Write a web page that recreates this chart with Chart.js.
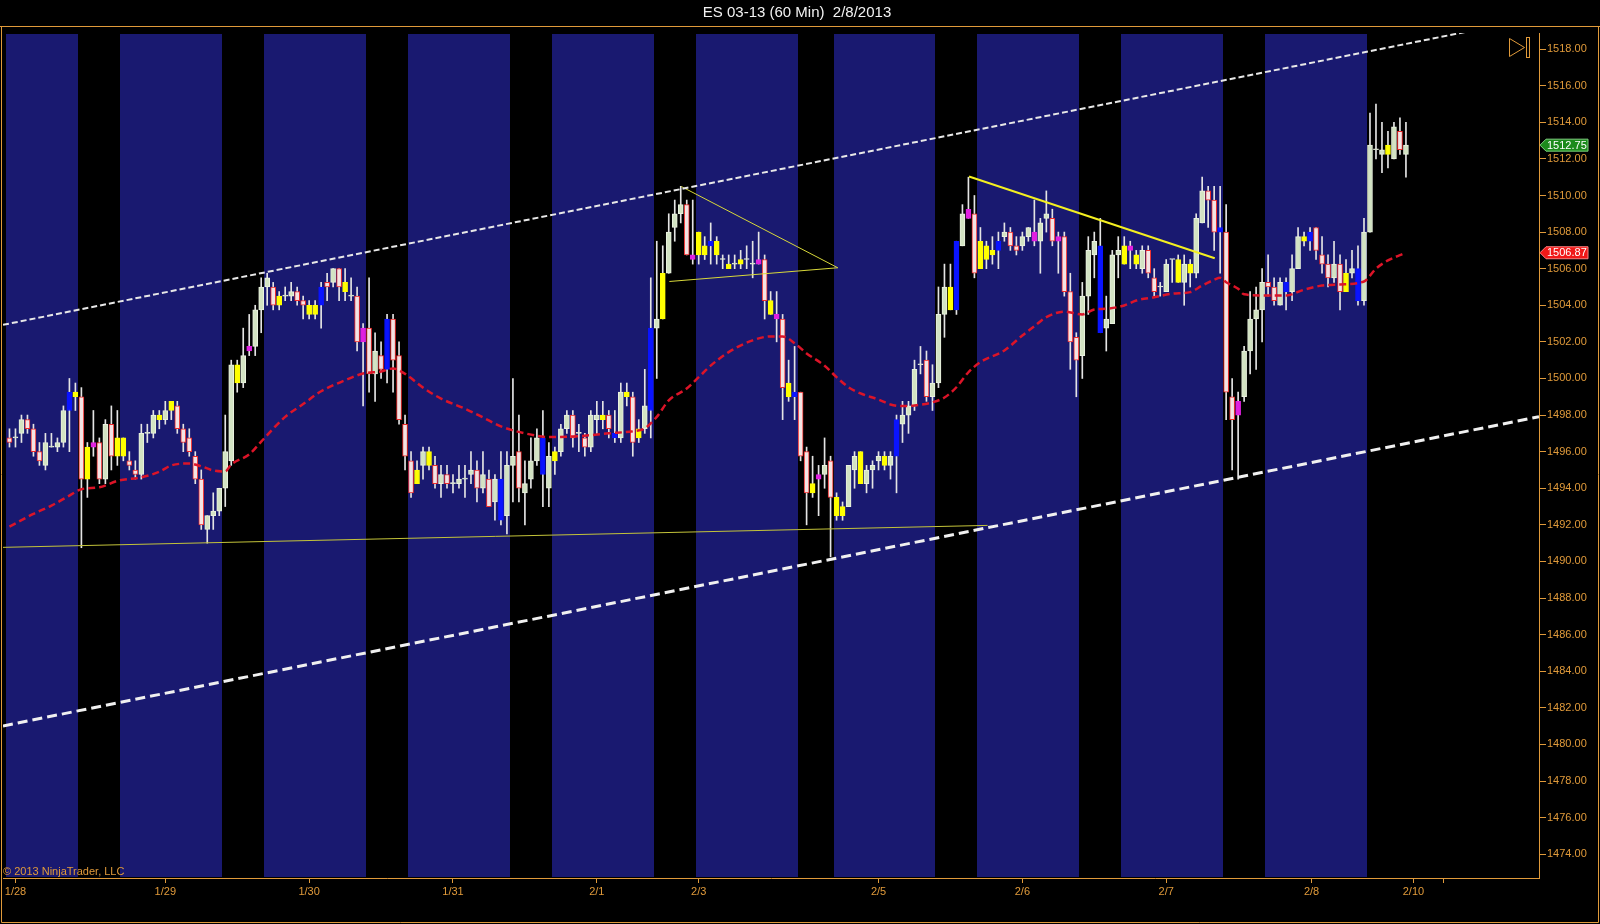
<!DOCTYPE html>
<html>
<head>
<meta charset="utf-8">
<title>ES 03-13 (60 Min) 2/8/2013</title>
<script src="https://cdn.jsdelivr.net/npm/chart.js@4.4.1/dist/chart.umd.min.js"></script>
<style>
  html, body { margin: 0; padding: 0; background: #000; }
  canvas { display: block; }
</style>
</head>
<body>
<canvas id="ChartHolder" width="1600" height="924"></canvas>
<script>
// hourly bars, index 0 = first bar on the chart
var openP = [
    1496.75, 1496.75, 1497.0, 1497.75, 1497.25, 1496.0, 1495.25, 1496.25, 1496.25, 1496.5,
    1498.25, 1499.0, 1499.0, 1494.5, 1496.25, 1496.5, 1494.5, 1497.5, 1495.75, 1495.75,
    1495.5, 1495.0, 1494.75, 1497.0, 1497.0, 1497.75, 1497.75, 1498.25, 1498.5, 1497.25,
    1496.75, 1495.75, 1494.5, 1491.75, 1492.5, 1492.75, 1494.0, 1495.5, 1499.75, 1499.75,
    1501.5, 1501.75, 1503.75, 1505.0, 1505.0, 1504.0, 1504.5, 1504.5, 1504.75, 1504.25,
    1503.5, 1503.5, 1504.0, 1505.25, 1505.25, 1506.0, 1504.75, 1504.5, 1504.5, 1502.0,
    1502.75, 1500.25, 1501.25, 1500.5, 1503.25, 1501.25, 1497.5, 1495.5, 1494.25, 1495.25,
    1495.25, 1495.25, 1494.25, 1494.75, 1494.25, 1494.25, 1494.5, 1494.75, 1495.0, 1494.0,
    1494.5, 1493.25, 1492.25, 1492.5, 1495.25, 1496.0, 1493.75, 1494.5, 1495.5, 1494.75,
    1494.0, 1495.5, 1496.0, 1497.25, 1498.0, 1497.0, 1496.75, 1496.25, 1497.75, 1497.75,
    1498.0, 1496.75, 1496.75, 1499.0, 1499.0, 1496.75, 1497.25, 1498.25, 1502.75, 1503.25,
    1505.75, 1508.25, 1509.0, 1509.5, 1506.5, 1506.75, 1506.75, 1507.25, 1506.75, 1506.5,
    1506.0, 1506.25, 1506.25, 1506.5, 1506.25, 1506.25, 1506.5, 1503.5, 1503.25, 1503.25,
    1499.0, 1499.0, 1499.25, 1496.0, 1493.75, 1494.5, 1494.75, 1495.5, 1492.5, 1492.5,
    1493.0, 1495.0, 1494.25, 1494.25, 1495.0, 1495.5, 1495.25, 1495.25, 1495.75, 1497.5,
    1498.0, 1498.5, 1500.75, 1501.0, 1499.0, 1499.75, 1503.5, 1503.75, 1503.75, 1507.25,
    1508.75, 1509.0, 1506.0, 1506.5, 1506.75, 1507.0, 1507.75, 1508.0, 1507.25, 1507.25,
    1507.75, 1507.5, 1507.5, 1508.75, 1508.75, 1507.5, 1507.75, 1504.75, 1502.25, 1501.25,
    1504.5, 1506.75, 1507.25, 1502.75, 1503.0, 1506.75, 1506.25, 1507.0, 1506.25, 1506.0,
    1507.0, 1505.5, 1505.0, 1504.75, 1506.5, 1505.25, 1505.25, 1505.75, 1505.75, 1508.5,
    1510.25, 1509.75, 1508.0, 1508.0, 1499.0, 1498.0, 1499.0, 1501.5, 1503.25, 1503.75,
    1505.25, 1505.0, 1504.0, 1504.75, 1504.75, 1506.0, 1507.5, 1507.5, 1508.25, 1506.75,
    1506.25, 1505.5, 1506.25, 1504.75, 1505.75, 1504.25, 1504.25, 1508.0, 1512.5, 1512.25,
    1512.25, 1512.0, 1513.5, 1512.25
];
var highP = [
    1497.25, 1497.25, 1498.0, 1498.0, 1497.5, 1496.5, 1497.0, 1497.0, 1496.75, 1498.5,
    1500.0, 1499.75, 1499.5, 1496.5, 1498.25, 1496.75, 1497.75, 1498.5, 1498.25, 1496.75,
    1496.0, 1495.5, 1497.5, 1497.5, 1498.25, 1498.25, 1498.75, 1498.75, 1498.75, 1497.5,
    1497.25, 1496.0, 1495.0, 1492.5, 1493.75, 1494.0, 1498.0, 1501.0, 1501.0, 1502.75,
    1503.5, 1504.0, 1505.5, 1505.75, 1505.25, 1504.75, 1505.0, 1505.25, 1505.0, 1504.5,
    1504.25, 1504.25, 1505.25, 1505.75, 1506.0, 1506.0, 1506.0, 1505.5, 1505.0, 1503.0,
    1505.5, 1502.5, 1502.0, 1503.5, 1503.5, 1502.0, 1498.0, 1496.0, 1495.5, 1496.25,
    1496.25, 1495.75, 1495.25, 1495.25, 1494.75, 1495.25, 1495.25, 1496.0, 1495.5, 1496.0,
    1495.0, 1494.75, 1496.0, 1496.0, 1500.0, 1498.0, 1495.5, 1496.75, 1497.25, 1498.25,
    1496.5, 1496.25, 1497.5, 1498.25, 1498.25, 1497.5, 1497.0, 1498.25, 1498.75, 1498.75,
    1498.25, 1498.25, 1499.75, 1499.75, 1499.25, 1497.75, 1500.5, 1505.5, 1507.5, 1507.25,
    1509.0, 1509.75, 1510.5, 1509.75, 1509.75, 1508.0, 1507.75, 1508.5, 1507.75, 1506.75,
    1506.75, 1506.75, 1507.0, 1507.25, 1507.5, 1508.0, 1506.75, 1504.75, 1504.75, 1503.5,
    1501.0, 1501.75, 1499.25, 1496.25, 1495.75, 1495.25, 1496.75, 1495.75, 1493.75, 1493.25,
    1495.25, 1496.0, 1496.0, 1495.25, 1495.5, 1496.0, 1496.0, 1496.0, 1498.0, 1498.75,
    1498.75, 1501.0, 1501.75, 1501.5, 1500.75, 1505.0, 1506.25, 1506.25, 1507.5, 1509.5,
    1511.0, 1510.0, 1508.25, 1507.5, 1507.75, 1508.0, 1508.5, 1508.25, 1507.75, 1508.0,
    1508.25, 1509.75, 1508.75, 1510.25, 1509.25, 1508.0, 1508.0, 1505.75, 1502.5, 1505.25,
    1507.75, 1508.0, 1508.75, 1504.5, 1507.0, 1507.75, 1507.75, 1507.5, 1507.0, 1507.25,
    1507.25, 1506.0, 1505.25, 1506.5, 1506.5, 1506.75, 1506.75, 1506.5, 1509.0, 1511.0,
    1510.5, 1510.5, 1510.5, 1509.5, 1500.0, 1499.25, 1501.75, 1504.75, 1505.0, 1506.0,
    1506.75, 1505.5, 1505.5, 1505.5, 1506.75, 1508.25, 1508.0, 1508.25, 1508.25, 1507.75,
    1506.75, 1507.5, 1506.75, 1506.5, 1507.0, 1507.25, 1508.75, 1514.5, 1515.0, 1514.0,
    1513.5, 1514.0, 1514.25, 1514.0
];
var lowP = [
    1496.25, 1496.25, 1496.5, 1497.0, 1495.75, 1495.25, 1495.0, 1496.25, 1496.0, 1496.25,
    1496.0, 1498.25, 1490.75, 1493.5, 1495.75, 1494.25, 1494.25, 1495.0, 1495.25, 1495.5,
    1495.0, 1494.5, 1494.5, 1496.5, 1496.75, 1497.25, 1497.5, 1497.75, 1497.0, 1496.0,
    1495.75, 1494.25, 1491.75, 1491.0, 1491.75, 1492.5, 1493.0, 1495.25, 1499.25, 1499.5,
    1501.25, 1501.25, 1502.5, 1504.0, 1503.75, 1503.75, 1504.25, 1504.25, 1504.0, 1503.25,
    1503.25, 1503.25, 1502.75, 1504.25, 1505.0, 1504.25, 1504.25, 1504.25, 1501.5, 1498.5,
    1499.25, 1498.75, 1500.0, 1499.75, 1499.25, 1497.5, 1495.0, 1493.5, 1494.25, 1494.5,
    1495.0, 1494.0, 1493.5, 1494.0, 1493.75, 1494.0, 1493.5, 1494.25, 1493.25, 1493.75,
    1493.0, 1492.25, 1492.0, 1491.5, 1493.25, 1493.25, 1492.0, 1494.0, 1495.25, 1493.0,
    1493.0, 1494.75, 1495.75, 1497.0, 1496.25, 1496.0, 1495.75, 1496.0, 1497.0, 1497.25,
    1496.75, 1496.5, 1496.5, 1498.5, 1495.75, 1496.5, 1497.0, 1496.75, 1500.0, 1503.25,
    1505.75, 1507.5, 1508.5, 1506.75, 1506.25, 1506.25, 1506.5, 1506.25, 1506.25, 1506.0,
    1506.0, 1506.0, 1506.0, 1506.0, 1505.5, 1506.25, 1503.25, 1503.5, 1502.0, 1497.75,
    1498.75, 1497.75, 1495.5, 1492.0, 1493.5, 1492.5, 1494.0, 1490.25, 1492.25, 1492.25,
    1493.0, 1494.0, 1494.25, 1493.75, 1494.0, 1495.0, 1495.0, 1494.5, 1493.75, 1496.5,
    1497.0, 1498.25, 1500.25, 1498.75, 1498.25, 1499.5, 1502.25, 1503.75, 1503.5, 1507.25,
    1508.75, 1505.5, 1506.0, 1506.0, 1506.25, 1506.0, 1507.5, 1507.0, 1506.75, 1507.0,
    1507.5, 1507.25, 1505.75, 1508.0, 1507.25, 1505.75, 1504.5, 1500.5, 1499.0, 1500.0,
    1503.5, 1505.5, 1502.5, 1501.5, 1503.0, 1505.5, 1506.25, 1506.0, 1506.0, 1505.75,
    1505.5, 1504.5, 1504.5, 1504.75, 1505.25, 1505.25, 1504.0, 1505.0, 1505.5, 1508.5,
    1508.25, 1507.0, 1505.75, 1497.75, 1495.0, 1494.5, 1498.75, 1500.25, 1500.5, 1502.0,
    1504.5, 1504.0, 1504.0, 1503.75, 1504.25, 1506.0, 1507.25, 1507.0, 1506.5, 1505.75,
    1505.0, 1505.25, 1503.75, 1504.75, 1505.5, 1504.0, 1504.0, 1508.0, 1512.0, 1511.25,
    1511.5, 1512.0, 1512.25, 1511.0
];
var closeP = [
    1496.5, 1496.75, 1497.75, 1497.25, 1496.0, 1495.5, 1496.5, 1496.25, 1496.5, 1498.25,
    1499.25, 1499.25, 1494.5, 1496.25, 1496.5, 1494.5, 1497.5, 1495.75, 1496.75, 1496.75,
    1495.25, 1494.75, 1497.0, 1497.0, 1498.0, 1498.0, 1498.25, 1498.75, 1497.25, 1496.5,
    1496.0, 1494.5, 1492.0, 1492.5, 1492.75, 1494.0, 1496.0, 1500.75, 1500.75, 1501.25,
    1501.75, 1503.75, 1505.0, 1505.5, 1504.0, 1504.5, 1504.5, 1504.75, 1504.25, 1504.0,
    1504.0, 1504.0, 1505.0, 1505.0, 1506.0, 1505.0, 1505.25, 1504.5, 1502.0, 1502.75,
    1500.25, 1501.5, 1500.5, 1503.25, 1501.0, 1497.75, 1495.75, 1493.75, 1495.0, 1496.0,
    1496.0, 1494.25, 1494.75, 1494.25, 1494.25, 1494.5, 1494.5, 1495.0, 1494.0, 1494.75,
    1493.0, 1494.5, 1494.5, 1495.25, 1495.75, 1494.0, 1494.25, 1495.5, 1496.75, 1496.75,
    1495.75, 1496.0, 1497.25, 1498.0, 1496.75, 1497.0, 1496.25, 1498.0, 1498.0, 1498.0,
    1497.25, 1497.0, 1499.25, 1499.25, 1496.5, 1497.25, 1498.5, 1502.75, 1503.25, 1505.75,
    1508.0, 1509.0, 1509.5, 1506.75, 1506.75, 1508.0, 1507.25, 1507.5, 1507.5, 1506.5,
    1506.25, 1506.25, 1506.5, 1506.5, 1506.25, 1506.5, 1504.25, 1504.25, 1503.5, 1499.5,
    1499.75, 1499.25, 1495.75, 1493.75, 1494.25, 1494.75, 1495.25, 1493.5, 1493.5, 1493.0,
    1495.25, 1495.75, 1496.0, 1495.0, 1495.25, 1495.75, 1495.75, 1495.75, 1497.75, 1498.0,
    1498.5, 1500.5, 1500.75, 1499.0, 1499.75, 1503.5, 1505.0, 1505.0, 1507.5, 1509.0,
    1509.25, 1505.75, 1507.5, 1507.25, 1507.0, 1507.5, 1508.0, 1507.25, 1507.0, 1507.75,
    1508.25, 1508.0, 1508.5, 1509.0, 1507.5, 1507.75, 1504.75, 1502.0, 1501.0, 1504.5,
    1507.0, 1507.5, 1502.5, 1503.25, 1506.75, 1507.0, 1507.25, 1507.25, 1506.75, 1507.0,
    1505.75, 1504.75, 1505.0, 1506.25, 1506.5, 1506.5, 1506.25, 1506.25, 1508.75, 1510.25,
    1509.75, 1508.0, 1508.25, 1499.25, 1497.75, 1498.75, 1501.5, 1503.25, 1503.75, 1505.25,
    1505.0, 1504.25, 1505.25, 1505.25, 1506.0, 1507.75, 1507.75, 1508.0, 1507.0, 1506.25,
    1505.5, 1506.25, 1504.75, 1505.75, 1506.0, 1506.0, 1508.0, 1512.75, 1512.5, 1512.5,
    1512.75, 1513.75, 1512.5, 1512.75
];
// bar paint: u = up, d = down, y / b / m = painted yellow, blue, magenta
var barPaint = ("duuddduuuu" + "bydymdudyy" + "dduuuyuydd" + "ddduuuuuyu" + "muuudyuudd" +
    "yybdudyudm" + "dudbddddyu" + "yduduuuudu" + "dubuuduuub" + "uyuududuuy" +
    "dbuydyubuy" + "uuudmyybyu" + "yuyuumdymd" + "ybddymudyy" + "uuyuuuyubu" +
    "uuuduuuybu" + "mdyyybuddu" + "umuudmdddu" + "uubuuuymyu" + "dduuuyuyuu" +
    "ddbddmuuuu" + "ddubuuybdd" + "dudyubuuuu" + "yudu").split("");

// moving average (red dashed), read at sample bars
var smaBar = [0, 4, 7, 10, 12, 15, 18, 22, 25, 27, 30, 32, 34, 36, 37, 40, 42, 46, 49, 52,
    56, 59, 62, 64, 66, 69, 72, 76, 79, 82, 86, 90, 94, 97, 100, 104, 106, 108, 110, 113,
    115, 117, 120, 124, 127, 129, 131, 133, 136, 138, 140, 142, 145, 147, 149, 151, 154, 156, 158, 160,
    162, 166, 169, 171, 173, 176, 179, 181, 183, 186, 188, 191, 194, 197, 199, 201, 202, 203, 205, 206,
    209, 213, 216, 219, 222, 226, 228, 230, 233];
var smaVal = [1491.9, 1492.6, 1493.05, 1493.6, 1493.95, 1494.05, 1494.4, 1494.6, 1494.9, 1495.25,
    1495.35, 1495.2, 1494.97, 1494.92, 1495.3, 1495.85, 1496.55, 1497.9, 1498.6, 1499.3,
    1499.9, 1500.27, 1500.38, 1500.55, 1500.25, 1499.5, 1498.9, 1498.35, 1497.87, 1497.38,
    1497.0, 1496.8, 1496.83, 1496.9, 1497.0, 1497.12, 1497.27, 1497.9, 1498.8, 1499.45,
    1500.07, 1500.7, 1501.44, 1502.08, 1502.3, 1502.3, 1501.93, 1501.37, 1500.7, 1500.07,
    1499.52, 1499.18, 1498.85, 1498.58, 1498.49, 1498.52, 1498.7, 1498.96, 1499.52, 1500.34,
    1500.89, 1501.53, 1502.35, 1502.85, 1503.35, 1503.65, 1503.5, 1503.77, 1503.81, 1503.99,
    1504.26, 1504.44, 1504.63, 1504.72, 1505.08, 1505.39, 1505.5, 1505.26, 1504.9, 1504.6,
    1504.54, 1504.54, 1504.85, 1505.08, 1505.14, 1505.3, 1506.0, 1506.45, 1506.87];

// session shading (bar index edges)
var bandStart = [-0.5, 18.5, 42.5, 66.5, 90.5, 114.5, 137.5, 161.5, 185.5, 209.5];
var bandEnd = [11.5, 35.5, 59.5, 83.5, 107.5, 131.5, 154.5, 178.5, 202.5, 226.5];

// date labels on the time axis
var tickBars = [1, 26, 50, 74, 98, 115, 145, 169, 193, 217.25, 234.25, 239.2];
var tickText = ['1/28', '1/29', '1/30', '1/31', '2/1', '2/3', '2/5', '2/6', '2/7', '2/8', '2/10', ''];

// drawn lines: [bar, price] end points
var upperChannelX = [-1.08, 255.2];
var upperChannelY = [1502.93, 1519.74];
var lowerChannelX = [-1.08, 255.2];
var lowerChannelY = [1481.01, 1497.91];
var supportX = [-1.08, 163.2];
var supportY = [1490.77, 1491.97];
var triTopX = [112.1, 138.2];
var triTopY = [1510.49, 1506.05];
var triLowX = [110.1, 138.2];
var triLowY = [1505.3, 1506.05];
var resistX = [160.1, 201.1];
var resistY = [1511.04, 1506.57];

var orange = '#e09a3a';
var bodyFill = { u: '#d3e3c3', d: '#f3e4e4', y: '#ffff00', b: '#0a14ff', m: '#e020e0' };
var bodyEdge = { u: '#eaf2e0', d: '#ee2b2b', y: '#ffff00', b: '#0a14ff', m: '#e020e0' };

function toPoints(xs, ys) {
    var pts = [];
    for (var i = 0; i < xs.length; i++) {
        pts.push({ x: xs[i], y: ys[i] });
    }
    return pts;
}

var wickData = [];
var bodyData = [];
for (var i = 0; i < openP.length; i++) {
    wickData.push({ x: i, y: [lowP[i], highP[i]] });
    bodyData.push({ x: i, y: [Math.min(openP[i], closeP[i]), Math.max(openP[i], closeP[i])] });
}

function lineSet(label, pts, color, width, dash) {
    return {
        type: 'line',
        label: label,
        data: pts,
        borderColor: color,
        borderWidth: width,
        borderDash: dash,
        pointRadius: 0,
        tension: 0,
        fill: false,
        order: 0
    };
}

function priceTag(c, x, y, text, fill, edge) {
    c.beginPath();
    c.moveTo(x, y);
    c.lineTo(x + 6, y - 6);
    c.lineTo(x + 48, y - 6);
    c.lineTo(x + 48, y + 6);
    c.lineTo(x + 6, y + 6);
    c.closePath();
    c.fillStyle = fill;
    c.fill();
    c.strokeStyle = edge;
    c.lineWidth = 1;
    c.stroke();
    c.fillStyle = '#ffffff';
    c.font = '11px "Liberation Sans", Arial, sans-serif';
    c.textAlign = 'left';
    c.textBaseline = 'middle';
    c.fillText(text, x + 7, y + 0.5);
}

var chartDecor = {
    id: 'chartDecor',
    beforeDraw: function (chart) {
        var c = chart.ctx;
        c.save();
        c.fillStyle = '#000000';
        c.fillRect(0, 0, chart.width, chart.height);
        c.restore();
    },
    beforeDatasetsDraw: function (chart) {
        var c = chart.ctx, xs = chart.scales.x, area = chart.chartArea;
        c.save();
        c.fillStyle = '#191970';
        for (var i = 0; i < bandStart.length; i++) {
            var x1 = Math.round(xs.getPixelForValue(bandStart[i]));
            var x2 = Math.round(xs.getPixelForValue(bandEnd[i]));
            c.fillRect(x1, area.top + 1, x2 - x1, area.bottom - area.top - 2);
        }
        c.restore();
    },
    afterDraw: function (chart) {
        var c = chart.ctx, ys = chart.scales.y, area = chart.chartArea;
        c.save();
        // title
        c.fillStyle = '#f2f2f2';
        c.font = '15px "Liberation Sans", Arial, sans-serif';
        c.textAlign = 'center';
        c.textBaseline = 'middle';
        c.fillText('ES 03-13 (60 Min)  2/8/2013', 797, 13);

        // frame
        c.strokeStyle = orange;
        c.lineWidth = 1;
        c.beginPath();
        c.moveTo(0, 26.5); c.lineTo(1600, 26.5);
        c.moveTo(1.5, 26.5); c.lineTo(1.5, 922.5);
        c.moveTo(1598.5, 26.5); c.lineTo(1598.5, 922.5);
        c.moveTo(1.5, 922.5); c.lineTo(1598.5, 922.5);
        c.stroke();

        // copyright
        c.fillStyle = orange;
        c.font = '11px "Liberation Sans", Arial, sans-serif';
        c.textAlign = 'left';
        c.textBaseline = 'alphabetic';
        c.fillText('\u00a9 2013 NinjaTrader, LLC', 3, 875);

        // scroll-to-end icon
        c.beginPath();
        c.moveTo(1509.5, 38.5); c.lineTo(1509.5, 56.5); c.lineTo(1524.5, 47.5); c.closePath();
        c.stroke();
        c.strokeRect(1526.5, 37.5, 3, 20);

        // last price and average markers
        var last = closeP.length - 1;
        var xTag = area.right + 1;
        priceTag(c, xTag, ys.getPixelForValue(closeP[last]), closeP[last].toFixed(2), '#1c8a1c', '#7fd07f');
        priceTag(c, xTag, ys.getPixelForValue(smaVal[smaVal.length - 1]), smaVal[smaVal.length - 1].toFixed(2), '#f01818', '#ff8080');
        c.restore();
    }
};

var ctx = document.getElementById('ChartHolder');

var chartConfig = {
    type: 'bar',
    data: {
        datasets: [
            lineSet('Upper channel', toPoints(upperChannelX, upperChannelY), '#e8e8e8', 2, [6, 3]),
            lineSet('Lower channel', toPoints(lowerChannelX, lowerChannelY), '#f0f0f0', 3, [10, 5]),
            lineSet('Support', toPoints(supportX, supportY), '#c4c43a', 1, []),
            lineSet('Triangle top', toPoints(triTopX, triTopY), '#d8d83a', 1, []),
            lineSet('Triangle low', toPoints(triLowX, triLowY), '#d8d83a', 1, []),
            lineSet('Resistance', toPoints(resistX, resistY), '#f4f020', 2, []),
            {
                type: 'line',
                label: 'SMA',
                data: toPoints(smaBar, smaVal),
                borderColor: '#dc1428',
                borderWidth: 2.5,
                borderDash: [7, 4],
                pointRadius: 0,
                cubicInterpolationMode: 'monotone',
                fill: false,
                order: 0
            },
            {
                label: 'Body',
                data: bodyData,
                grouped: false,
                categoryPercentage: 1,
                barPercentage: 1,
                maxBarThickness: 5,
                minBarLength: 1,
                borderWidth: 1,
                borderSkipped: false,
                backgroundColor: function (c) {
                    return bodyFill[barPaint[c.dataIndex]] || '#d3e3c3';
                },
                borderColor: function (c) {
                    return bodyEdge[barPaint[c.dataIndex]] || '#eaf2e0';
                },
                order: 1
            },
            {
                label: 'Wick',
                data: wickData,
                grouped: false,
                categoryPercentage: 1,
                barPercentage: 1,
                maxBarThickness: 1,
                borderWidth: 0,
                backgroundColor: '#e4e4e4',
                order: 2
            }
        ]
    },
    options: {
        responsive: false,
        animation: false,
        devicePixelRatio: 1,
        layout: {
            padding: { left: 3, top: 33, right: 0, bottom: 0 }
        },
        plugins: {
            legend: { display: false },
            tooltip: { enabled: false },
            title: { display: false }
        },
        scales: {
            x: {
                type: 'linear',
                min: -1.08,
                max: 255.2,
                offset: false,
                grid: { drawOnChartArea: false, offset: false, tickLength: 5, color: orange },
                border: { color: orange },
                ticks: {
                    color: orange,
                    font: { family: 'Liberation Sans', size: 11 },
                    padding: 2,
                    autoSkip: false,
                    maxRotation: 0,
                    callback: function (value, index) {
                        return tickText[index];
                    }
                },
                afterBuildTicks: function (scale) {
                    scale.ticks = tickBars.map(function (v) { return { value: v }; });
                },
                afterFit: function (scale) {
                    scale.height = 46;
                }
            },
            y: {
                type: 'linear',
                position: 'right',
                min: 1472.7,
                max: 1518.88,
                stacked: false,
                grid: { drawOnChartArea: false, tickLength: 7, color: orange },
                border: { color: orange },
                ticks: {
                    stepSize: 2,
                    color: orange,
                    font: { family: 'Liberation Sans', size: 11 },
                    padding: 1,
                    callback: function (value) {
                        return value.toFixed(2);
                    }
                },
                afterBuildTicks: function (scale) {
                    scale.ticks = scale.ticks.filter(function (t) {
                        return t.value >= scale.min && t.value <= scale.max && t.value % 2 === 0;
                    });
                },
                afterFit: function (scale) {
                    scale.width = 61;
                }
            }
        }
    },
    plugins: [chartDecor]
};

var currentChart = new Chart(ctx, chartConfig);
</script>
</body>
</html>
